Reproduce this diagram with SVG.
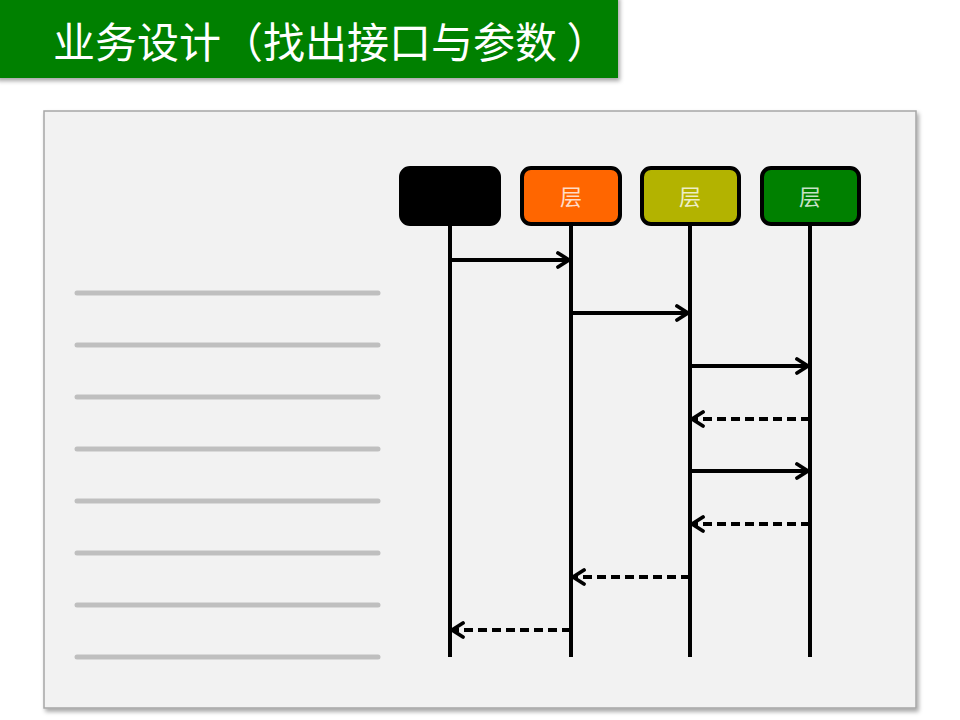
<svg xmlns="http://www.w3.org/2000/svg" width="960" height="720" viewBox="0 0 960 720">
  <defs>
    <filter id="sh" x="-5%" y="-5%" width="110%" height="120%">
      <feDropShadow dx="2" dy="3" stdDeviation="2" flood-color="#000" flood-opacity="0.35"/>
    </filter>
    <marker id="ah" viewBox="0 0 16 18" refX="14" refY="9" markerWidth="16" markerHeight="18" markerUnits="userSpaceOnUse" orient="auto">
      <path d="M3,2 L14,9 L3,16" fill="none" stroke="#000" stroke-width="3.8" stroke-linecap="round" stroke-linejoin="round"/>
    </marker>
    <style>
      .title { font-family: "Noto Sans CJK SC", "Noto Sans", sans-serif; font-size: 42px; fill: #ffffff; }
      .lbl { font-family: "Noto Sans CJK SC", "Noto Sans", sans-serif; font-size: 22px; fill: #ffffff; fill-opacity: 0.78; text-anchor: middle; }
      .box { stroke: #000; stroke-width: 4; }
      .life { stroke: #000; stroke-width: 4; fill: none; }
      .msg { stroke: #000; stroke-width: 3.8; fill: none; marker-end: url(#ah); }
      .ret { stroke-dasharray: 9 5; }
      .rule { stroke: #bfbfbf; stroke-width: 5; stroke-linecap: round; }
    </style>
  </defs>
  <rect width="960" height="720" fill="#ffffff"/>

  <g id="title">
    <rect x="-5" y="-5" width="623" height="83" fill="#008000" filter="url(#sh)"/>
    <text class="title" x="53" y="58">业务设计（找出接口与参数 ）</text>
  </g>

  <g id="panel">
    <rect x="44" y="111" width="872" height="597" fill="#f2f2f2" stroke="#a6a6a6" stroke-width="1.5" filter="url(#sh)"/>
  </g>

  <g id="rules">
    <line class="rule" x1="77" y1="293" x2="378" y2="293"/>
    <line class="rule" x1="77" y1="345" x2="378" y2="345"/>
    <line class="rule" x1="77" y1="397" x2="378" y2="397"/>
    <line class="rule" x1="77" y1="449" x2="378" y2="449"/>
    <line class="rule" x1="77" y1="501" x2="378" y2="501"/>
    <line class="rule" x1="77" y1="553" x2="378" y2="553"/>
    <line class="rule" x1="77" y1="605" x2="378" y2="605"/>
    <line class="rule" x1="77" y1="657" x2="378" y2="657"/>
  </g>

  <g id="lifelines">
    <line class="life" x1="450" y1="224" x2="450" y2="657"/>
    <line class="life" x1="571" y1="224" x2="571" y2="657"/>
    <line class="life" x1="690" y1="224" x2="690" y2="657"/>
    <line class="life" x1="810" y1="224" x2="810" y2="657"/>
  </g>

  <g id="node-client">
    <rect class="box" x="401" y="168" width="98" height="56" rx="9" fill="#000000"/>
  </g>
  <g id="node-layer1">
    <rect class="box" x="522" y="168" width="98" height="56" rx="9" fill="#ff6600"/>
    <text class="lbl" x="571" y="205">层</text>
  </g>
  <g id="node-layer2">
    <rect class="box" x="642" y="168" width="97" height="56" rx="9" fill="#b3b300"/>
    <text class="lbl" x="690" y="205">层</text>
  </g>
  <g id="node-layer3">
    <rect class="box" x="762" y="168" width="97" height="56" rx="9" fill="#008000"/>
    <text class="lbl" x="810" y="205">层</text>
  </g>

  <g id="connectors">
    <line class="msg" x1="450" y1="260" x2="569" y2="260"/>
    <line class="msg" x1="571" y1="313" x2="688" y2="313"/>
    <line class="msg" x1="690" y1="366" x2="808" y2="366"/>
    <line class="msg ret" x1="810" y1="419" x2="692" y2="419"/>
    <line class="msg" x1="690" y1="471" x2="808" y2="471"/>
    <line class="msg ret" x1="810" y1="524" x2="692" y2="524"/>
    <line class="msg ret" x1="690" y1="577" x2="573" y2="577"/>
    <line class="msg ret" x1="571" y1="630" x2="452" y2="630"/>
  </g>
</svg>
